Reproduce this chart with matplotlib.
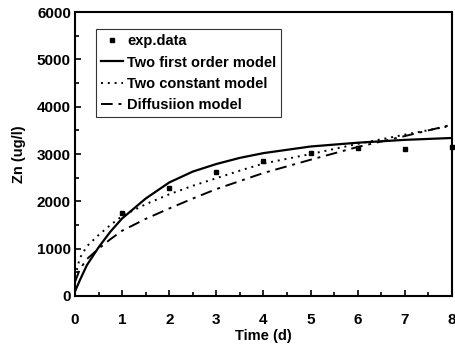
import numpy as np
import matplotlib.pyplot as plt
from matplotlib.ticker import MultipleLocator

plt.rcParams['font.family'] = ['Liberation Sans', 'DejaVu Sans']
plt.rcParams['font.weight'] = 'bold'

# measured points
t_exp = [1, 2, 3, 4, 5, 6, 7, 8]
zn_exp = [1750, 2280, 2620, 2850, 3020, 3130, 3100, 3150]

# model curves
t_mod = [0, 0.1, 0.25, 0.5, 0.75, 1, 1.5, 2, 2.5, 3, 3.5, 4, 5, 6, 7, 8]
zn_first = [100, 330, 650, 1030, 1360, 1640, 2060, 2400, 2630, 2790, 2920, 3020, 3160, 3240, 3300, 3340]
zn_const = [410, 800, 1050, 1290, 1500, 1690, 1940, 2150, 2330, 2490, 2650, 2800, 3000, 3215, 3410, 3600]
zn_diff = [300, 560, 780, 1000, 1200, 1380, 1630, 1850, 2060, 2260, 2430, 2600, 2880, 3150, 3380, 3620]

fig = plt.figure(figsize=(4.55, 3.47), dpi=100)
ax = fig.add_axes([0.165, 0.147, 0.828, 0.818])

ax.plot(t_exp, zn_exp, 's', color='black', markersize=3.5, label='exp.data', clip_on=False)
ax.plot(t_mod, zn_first, '-', color='black', linewidth=1.6, label='Two first order model')
ax.plot(t_mod, zn_const, color='black', linewidth=1.4, linestyle=(0, (1, 2.5)), label='Two constant model')
ax.plot(t_mod, zn_diff, color='black', linewidth=1.4, linestyle=(0, (6, 3, 1.5, 3)), label='Diffusiion model')

ax.set_xlim(0, 8)
ax.set_ylim(0, 6000)
ax.xaxis.set_major_locator(MultipleLocator(1))
ax.xaxis.set_minor_locator(MultipleLocator(0.5))
ax.yaxis.set_major_locator(MultipleLocator(1000))
ax.yaxis.set_minor_locator(MultipleLocator(500))
ax.tick_params(which='both', direction='in', top=False, right=False, labelsize=11, width=1.2)
ax.tick_params(which='major', length=4)
ax.tick_params(which='minor', length=3)
ax.tick_params(axis='x', which='major', pad=12)
ax.tick_params(axis='y', which='major', pad=3)
for s in ax.spines.values():
    s.set_linewidth(1.5)

ax.set_xlabel('Time (d)', fontsize=10.5, fontweight='bold', labelpad=2)
ax.set_ylabel('Zn (ug/l)', fontsize=10.5, fontweight='bold', labelpad=8)

leg = ax.legend(loc='upper left', bbox_to_anchor=(0.055, 0.94), fontsize=10.5, frameon=True,
                fancybox=False, edgecolor='black', handlelength=1.5, handletextpad=0.3,
                borderpad=0.35, labelspacing=0.5, borderaxespad=0)
leg.get_frame().set_linewidth(0.8)
for txt in leg.get_texts():
    txt.set_fontweight('bold')

fig.savefig('out.png', dpi=100)
